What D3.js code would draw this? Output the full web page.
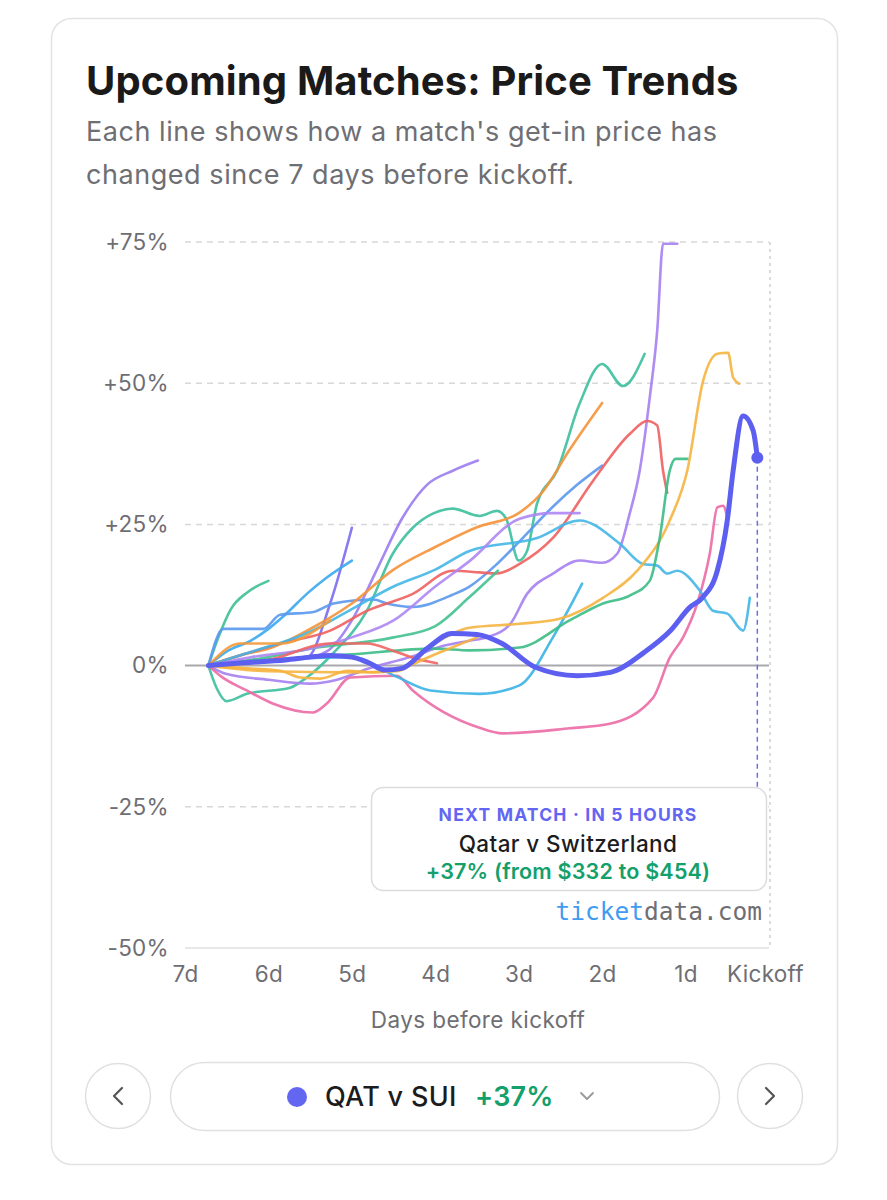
<!DOCTYPE html>
<html>
<head>
<meta charset="utf-8">
<script src="https://cdn.jsdelivr.net/npm/d3@7"></script>
<style>
  body { margin: 0; background: #fff; font-family: Inter, "Noto Sans", sans-serif; }
</style>
</head>
<body>
<div id="chart"></div>
<script>
// ---- data: [days before kickoff, % change since 7 days out] ----
const xTicks = [7, 6, 5, 4, 3, 2, 1, 0];
const xTickLabels = ["7d", "6d", "5d", "4d", "3d", "2d", "1d", "Kickoff"];
const yTicks = [-50, -25, 0, 25, 50, 75];
const yTickLabels = ["-50%", "-25%", "0%", "+25%", "+50%", "+75%"];

const tealShort = [[6.72,0],[6.6,5],[6.45,10],[6.25,13],[6.0,15]];
const tealLong = [[6.72,0],[6.62,-4],[6.5,-6.3],[6.26,-5],[5.74,-3.9],[5.54,-2.1],[5.23,2.1],[4.82,9.7],[4.51,19.8],[4.27,24.4],[4.03,26.9],[3.79,27.8],[3.47,26.5],[3.26,27.4],[3.15,26],[3.0,18.6],[2.9,20.3],[2.78,28.7],[2.54,34.5],[2.27,46.4],[2.0,53.4],[1.75,49.5],[1.49,55.2]];
const purpleTall = [[6.72,0],[6.5,-1.5],[6.0,-2.5],[5.5,-3.2],[5.2,-2.6],[4.8,-0.5],[4.3,1.5],[3.9,3.5],[3.59,4.4],[3.38,5],[3.1,7.4],[2.9,12.7],[2.59,16.3],[2.27,18.6],[2.0,18.2],[1.82,19.8],[1.67,26.9],[1.55,34.5],[1.43,47.4],[1.34,59.3],[1.27,74.7],[1.1,74.7]];
const purpleMid = [[6.72,0],[6.2,0.8],[5.6,1.2],[5.3,2.5],[5.0,8],[4.7,17],[4.4,26],[4.1,32],[3.79,34.5],[3.49,36.3]];
const indigoShort = [[6.72,0],[6.2,0.8],[5.8,1.2],[5.54,1.4],[5.26,11],[5.0,24.4]];
const skyShort = [[6.72,0],[6.5,2.5],[6.2,4.5],[6.0,6.5],[5.8,9],[5.54,12.7],[5.3,15.6],[5.0,18.6]];
const blueMid = [[6.72,0],[6.54,6.5],[6.06,6.5],[5.86,9],[5.46,9.5],[5.22,11],[4.74,11.7],[4.58,11],[4.27,10.4],[3.8,12.5],[3.59,14],[3.26,18],[2.99,22],[2.6,28],[2.3,32],[2.0,35.4]];
const orangeMid = [[6.72,0],[6.3,2],[6.0,3],[5.5,6.5],[5.0,11],[4.5,17],[4.0,21],[3.5,24.5],[3.0,27],[2.7,31],[2.4,38],[2.0,46.5]];
const redPeak = [[6.72,0],[5.86,3.9],[5.26,6.2],[4.82,9.7],[4.27,12.7],[3.79,16.8],[3.47,16.5],[3.26,16.3],[2.99,18],[2.59,22.6],[2.11,32.7],[1.67,41],[1.46,43.3],[1.34,42.5],[1.27,34.5],[1.22,30.6]];
const pinkLow = [[6.72,0],[6.56,-2],[6.26,-4.4],[5.95,-6.7],[5.47,-8.3],[5.3,-6.7],[5.02,-2.1],[4.46,-1.8],[4.27,-4.4],[3.47,-11],[3.19,-12],[2.39,-11.1],[1.91,-10.3],[1.39,-5.7],[1.19,1.4],[1.03,5],[0.86,11],[0.71,19.8],[0.62,28],[0.55,28.3],[0.5,26.2]];
const cyanDip = [[6.72,0],[6.0,1],[5.0,1.5],[4.46,-2],[4.06,-4.4],[3.47,-5],[2.99,-3.5],[2.59,5],[2.24,14.5]];
const cyanLong = [[6.72,0],[6.3,2],[5.5,6],[5.0,10],[4.5,14],[4.0,17],[3.59,20.3],[2.78,22.6],[2.27,25.7],[1.79,21.6],[1.51,18],[1.34,17.7],[1.22,16.3],[1.1,16.8],[0.83,13.3],[0.67,9.7],[0.5,9.2],[0.31,6.2],[0.23,12]];
const yellowLate = [[6.72,0],[6.0,-1],[5.0,-1.2],[4.46,-1],[4.0,4],[3.59,6.7],[2.99,7.4],[2.51,8.3],[1.99,12],[1.58,16.8],[1.19,25.7],[0.98,34.5],[0.79,50.4],[0.62,55.2],[0.49,55.4],[0.43,51],[0.36,49.9]];
const greenStep = [[6.72,0],[6.0,1],[5.0,2],[4.0,3],[3.59,2.7],[2.99,3.2],[2.39,8],[1.99,11],[1.67,12.4],[1.43,15],[1.31,22.6],[1.19,34.5],[1.12,36.6],[0.98,36.6]];
const greenShort = [[6.72,0],[6.0,1.5],[5.5,3],[4.5,5],[4.0,7],[3.6,12],[3.25,16.8]];
const orangeShort = [[6.72,0],[6.34,3.9],[5.86,3.9],[5.26,8]];
const lavenderMid = [[6.72,0],[6.2,1.5],[5.5,3],[5.0,5],[4.5,8],[4.0,14],[3.59,18.5],[2.99,26],[2.6,27],[2.27,27]];
const redShort = [[6.72,0],[6.0,1],[5.26,3.9],[4.82,3.9],[4.5,2.6],[4.27,1.4],[3.98,0.4]];
const orangeLow = [[6.72,0],[6.2,-0.5],[5.86,-0.9],[5.62,-2.1],[5.38,-2.3],[5.05,-0.9],[4.74,-1.2],[4.5,-0.9],[4.0,2],[3.5,5]];
const qatSui = [[6.72,0],[6.3,0.5],[5.8,1],[5.5,1.5],[5.26,1.8],[5.0,1.5],[4.8,0.5],[4.6,-0.8],[4.4,-0.5],[4.1,3],[3.8,5.7],[3.5,5.5],[3.2,3.9],[2.8,-0.3],[2.3,-1.8],[1.9,-1.2],[1.5,2.3],[1.18,6.2],[0.95,10.3],[0.8,12],[0.62,16.8],[0.5,25.7],[0.43,34.5],[0.31,44.2],[0.19,41.6],[0.14,36.8]];

const otherSeries = [tealShort, tealLong, purpleTall, purpleMid, indigoShort, skyShort, blueMid, orangeMid,
  redPeak, pinkLow, cyanDip, cyanLong, yellowLate, greenStep, greenShort, orangeShort, lavenderMid, redShort, orangeLow];
const otherColors = ["#3cbf96", "#3cbf9d", "#a57ff0", "#9b7cf0", "#7b6cf0", "#3aa8ee", "#5b98ee", "#f5923a",
  "#ee5f5f", "#ec6aa6", "#3ab2e4", "#43b6e6", "#f6b440", "#3bbb85", "#43c190", "#f59a3a", "#ad86f2", "#ef6464", "#f6b23e"];

// ---- layout ----
const W = 887, H = 1200;
const svg = d3.select("#chart").append("svg").attr("width", W).attr("height", H);

// card
svg.append("rect").attr("x", 51.5).attr("y", 18.5).attr("width", 786).attr("height", 1146)
  .attr("rx", 20).attr("fill", "#fff").attr("stroke", "#e3e3e3").attr("stroke-width", 1.5);

svg.append("text").attr("x", 86).attr("y", 95).text("Upcoming Matches: Price Trends")
  .attr("font-size", 40).attr("font-weight", 700).attr("fill", "#1a1a1a").attr("letter-spacing", 0.15);
svg.append("text").attr("x", 86).attr("y", 141).text("Each line shows how a match's get-in price has")
  .attr("font-size", 27).attr("fill", "#6e6e73").attr("letter-spacing", 0.55);
svg.append("text").attr("x", 86).attr("y", 184).text("changed since 7 days before kickoff.")
  .attr("font-size", 27).attr("fill", "#6e6e73").attr("letter-spacing", 0.55);

const x = d3.scaleLinear().domain([7, 0]).range([185, 769]);
const y = d3.scaleLinear().domain([-50, 75]).range([948, 242]);

// grid
const g = svg.append("g");
g.selectAll(".grid").data(yTicks.filter(d => d !== 0 && d !== -50)).enter().append("line")
  .attr("x1", x(7)).attr("x2", x(0)).attr("y1", d => y(d)).attr("y2", d => y(d))
  .attr("stroke", "#d8d8d8").attr("stroke-width", 1.5).attr("stroke-dasharray", "6,5");
g.append("line").attr("x1", x(7)).attr("x2", x(0)).attr("y1", y(-50)).attr("y2", y(-50))
  .attr("stroke", "#e0e0e0").attr("stroke-width", 1.5);
g.append("line").attr("x1", x(0) + 1).attr("x2", x(0) + 1).attr("y1", y(75)).attr("y2", y(-50))
  .attr("stroke", "#cfcfcf").attr("stroke-width", 1.5).attr("stroke-dasharray", "3,4");

// y axis labels
const yAxis = svg.append("g").attr("transform", "translate(177,0)")
  .call(d3.axisLeft(y).tickValues(yTicks).tickSize(0).tickPadding(8)
    .tickFormat((d, i) => yTickLabels[i]));
yAxis.select(".domain").remove();
yAxis.selectAll("text").attr("font-size", 22.5).attr("fill", "#6e6e73")
  .attr("font-family", "Inter, sans-serif").attr("letter-spacing", 0.3);

// x axis labels
const xAxis = svg.append("g").attr("transform", "translate(0,958)")
  .call(d3.axisBottom(x).tickValues(xTicks).tickSize(0).tickPadding(8)
    .tickFormat((d, i) => xTickLabels[i]));
xAxis.select(".domain").remove();
xAxis.selectAll("text").attr("font-size", 22.5).attr("fill", "#6e6e73")
  .attr("font-family", "Inter, sans-serif").attr("letter-spacing", 0.3);
xAxis.selectAll(".tick").filter(d => d === 0).select("text").attr("dx", -4);

svg.append("text").attr("x", 478).attr("y", 1028).attr("text-anchor", "middle")
  .text("Days before kickoff").attr("font-size", 22.5).attr("fill", "#6e6e73").attr("letter-spacing", 0.4);

// zero line
g.append("line").attr("x1", x(7)).attr("x2", x(0)).attr("y1", y(0)).attr("y2", y(0))
  .attr("stroke", "#a9a9ad").attr("stroke-width", 2);

const line = d3.line().x(d => x(d[0])).y(d => y(d[1])).curve(d3.curveMonotoneX);

svg.append("g").selectAll("path").data(otherSeries).enter().append("path")
  .attr("d", line).attr("fill", "none")
  .attr("stroke", (d, i) => otherColors[i]).attr("stroke-width", 2.6)
  .attr("stroke-opacity", 0.9).attr("stroke-linecap", "round");

// highlighted match
const last = qatSui[qatSui.length - 1];
svg.append("line").attr("x1", x(last[0])).attr("x2", x(last[0]))
  .attr("y1", y(last[1])).attr("y2", 787)
  .attr("stroke", "#6b6cf0").attr("stroke-width", 1.5).attr("stroke-dasharray", "5,4");
svg.append("path").datum(qatSui).attr("d", line).attr("fill", "none")
  .attr("stroke", "#5d5ff0").attr("stroke-width", 5).attr("stroke-linecap", "round");
svg.append("circle").attr("cx", x(last[0])).attr("cy", y(last[1])).attr("r", 6).attr("fill", "#5d5ff0");

// annotation box
svg.append("rect").attr("x", 371.5).attr("y", 787.5).attr("width", 395).attr("height", 103)
  .attr("rx", 12).attr("fill", "#fff").attr("stroke", "#dcdcdc").attr("stroke-width", 1.5);
svg.append("text").attr("x", 568).attr("y", 821).attr("text-anchor", "middle")
  .text("NEXT MATCH · IN 5 HOURS").attr("font-size", 17.5).attr("font-weight", 700)
  .attr("letter-spacing", 1.2).attr("fill", "#6366f1");
svg.append("text").attr("x", 568).attr("y", 852).attr("text-anchor", "middle")
  .text("Qatar v Switzerland").attr("font-size", 22.5).attr("font-weight", 500)
  .attr("letter-spacing", 0.4).attr("fill", "#1c1c1e");
svg.append("text").attr("x", 568).attr("y", 879).attr("text-anchor", "middle")
  .text("+37% (from $332 to $454)").attr("font-size", 21.5).attr("font-weight", 600)
  .attr("letter-spacing", 0.2).attr("fill", "#13a06a");

const brand = svg.append("text").attr("x", 762).attr("y", 920).attr("text-anchor", "end")
  .attr("font-family", "'DejaVu Sans Mono', 'Liberation Mono', monospace").attr("font-size", 24.5);
brand.append("tspan").text("ticket").attr("fill", "#3f9cf0");
brand.append("tspan").text("data.com").attr("fill", "#6e6e73");

// bottom controls
const ctrl = svg.append("g");
[118, 770].forEach(cx => {
  ctrl.append("circle").attr("cx", cx).attr("cy", 1096).attr("r", 32.5)
    .attr("fill", "#fff").attr("stroke", "#e0e0e0").attr("stroke-width", 1.5);
});
ctrl.append("path").attr("d", "M122,1088 L114,1096 L122,1104").attr("fill", "none")
  .attr("stroke", "#555").attr("stroke-width", 2.2).attr("stroke-linecap", "round").attr("stroke-linejoin", "round");
ctrl.append("path").attr("d", "M766,1088 L774,1096 L766,1104").attr("fill", "none")
  .attr("stroke", "#555").attr("stroke-width", 2.2).attr("stroke-linecap", "round").attr("stroke-linejoin", "round");
ctrl.append("rect").attr("x", 170.5).attr("y", 1062.5).attr("width", 549).attr("height", 68)
  .attr("rx", 34).attr("fill", "#fff").attr("stroke", "#e0e0e0").attr("stroke-width", 1.5);
ctrl.append("circle").attr("cx", 297).attr("cy", 1097).attr("r", 10).attr("fill", "#6366f1");
ctrl.append("text").attr("x", 325).attr("y", 1106).text("QAT v SUI")
  .attr("font-size", 27).attr("font-weight", 500).attr("fill", "#1c1c1e").attr("letter-spacing", 0.3);
ctrl.append("text").attr("x", 475).attr("y", 1106).text("+37%")
  .attr("font-size", 27).attr("font-weight", 600).attr("fill", "#13a06a").attr("letter-spacing", 0.2);
ctrl.append("path").attr("d", "M581,1093 L587,1099 L593,1093").attr("fill", "none")
  .attr("stroke", "#999").attr("stroke-width", 1.8).attr("stroke-linecap", "round").attr("stroke-linejoin", "round");
</script>
</body>
</html>
